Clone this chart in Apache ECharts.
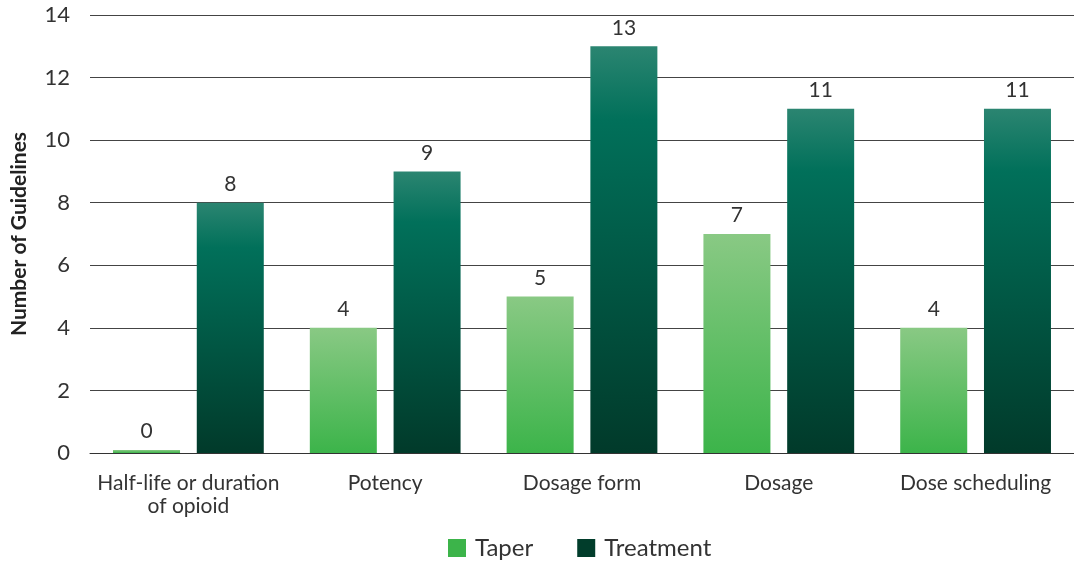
<!DOCTYPE html>
<html>
<head>
<meta charset="utf-8">
<script src="https://cdn.jsdelivr.net/npm/echarts@6/dist/echarts.min.js"></script>
<style>
  html, body { margin: 0; padding: 0; background: #fff; }
  #chart { width: 1074px; height: 561px; }
</style>
</head>
<body>
<div id="chart"></div>
<script>
// 数据
const categories = ['Half-life or duration\nof opioid', 'Potency', 'Dosage form', 'Dosage', 'Dose scheduling'];
const taper = [0, 4, 5, 7, 4];
const treatment = [8, 9, 13, 11, 11];
const yTicks = [0, 2, 4, 6, 8, 10, 12, 14];

const FONT = 'Lato, "Open Sans", sans-serif';

const taperGrad = new echarts.graphic.LinearGradient(0, 0, 0, 1, [
  { offset: 0, color: '#89c984' },
  { offset: 1, color: '#3cb44a' }
]);
const treatGrad = new echarts.graphic.LinearGradient(0, 0, 0, 1, [
  { offset: 0, color: '#2b8571' },
  { offset: 0.18, color: '#01705a' },
  { offset: 1, color: '#013a2a' }
]);

const chart = echarts.init(document.getElementById('chart'));
chart.setOption({
  animation: false,
  grid: { left: 90, right: 0, top: 15, bottom: 108, outerBoundsMode: 'none', containLabel: false },
  legend: {
    top: 531,
    left: 443,
    itemWidth: 18,
    itemHeight: 18,
    itemGap: 44,
    icon: 'rect',
    textStyle: { fontFamily: FONT, fontSize: 24, color: '#333', padding: [0, 0, 0, 4] },
    data: [
      { name: 'Taper', itemStyle: { color: '#3cb44a' } },
      { name: 'Treatment', itemStyle: { color: '#013d2b' } }
    ]
  },
  xAxis: {
    type: 'category',
    data: categories,
    axisLine: { show: true, lineStyle: { color: '#333', width: 1 } },
    axisTick: { show: false },
    axisLabel: { interval: 0, fontFamily: FONT, fontSize: 21, color: '#333', margin: 19, lineHeight: 23 }
  },
  yAxis: {
    type: 'value',
    min: 0,
    max: yTicks[yTicks.length - 1],
    interval: 2,
    name: 'Number of Guidelines',
    nameLocation: 'middle',
    nameGap: 60,
    nameTextStyle: { fontFamily: FONT, fontSize: 21, fontWeight: 'bold', color: '#222' },
    axisLine: { show: false },
    axisTick: { show: false },
    axisLabel: { fontFamily: FONT, fontSize: 22, color: '#333', margin: 20 },
    splitLine: { lineStyle: { color: '#444', width: 1 } }
  },
  series: [
    {
      name: 'Taper',
      type: 'bar',
      data: taper,
      barWidth: 67,
      barGap: '25%',
      barMinHeight: 3,
      itemStyle: { color: taperGrad },
      label: { show: true, position: 'top', distance: 8, fontFamily: FONT, fontSize: 21, color: '#333' }
    },
    {
      name: 'Treatment',
      type: 'bar',
      data: treatment,
      barWidth: 67,
      barGap: '25%',
      itemStyle: { color: treatGrad },
      label: { show: true, position: 'top', distance: 8, fontFamily: FONT, fontSize: 21, color: '#333' }
    }
  ]
});
</script>
</body>
</html>
